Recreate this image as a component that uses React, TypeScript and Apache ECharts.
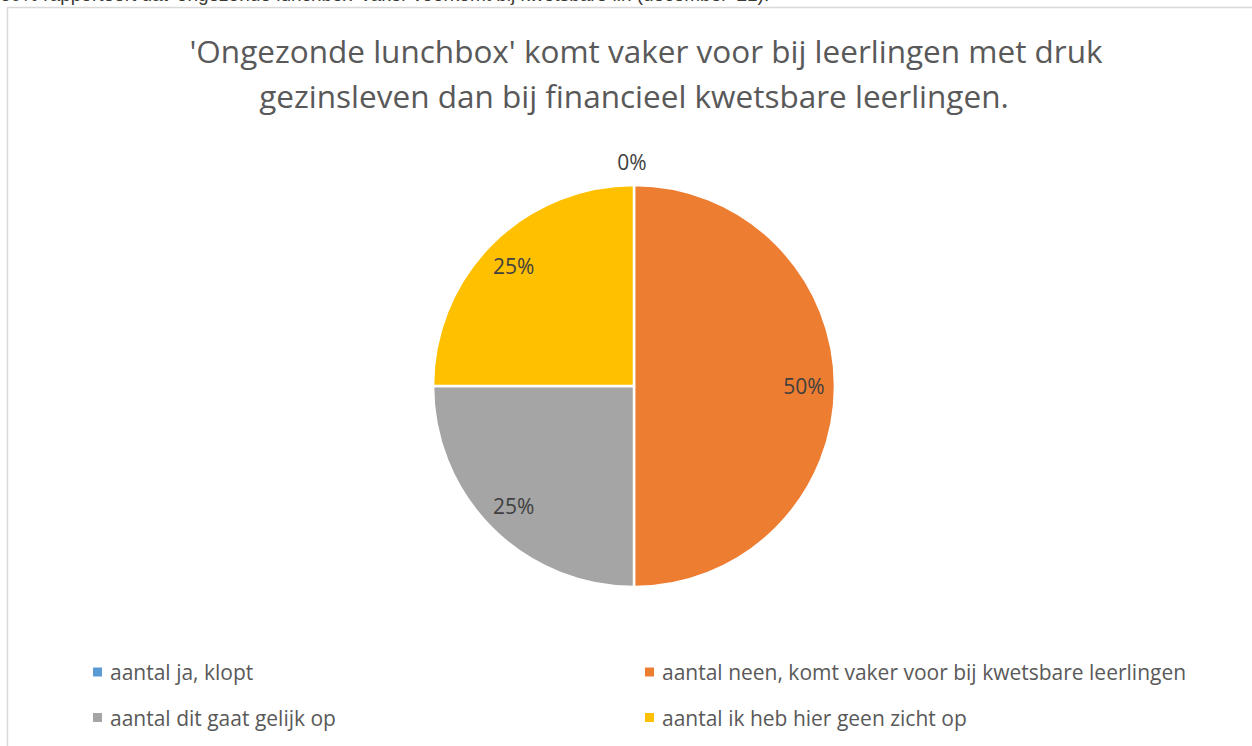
import React, { useEffect, useRef } from "react";
import * as echarts from "echarts";

const categories = [
  "aantal ja, klopt",
  "aantal neen, komt vaker voor bij kwetsbare leerlingen",
  "aantal dit gaat gelijk op",
  "aantal ik heb hier geen zicht op",
];
const values = [0, 2, 1, 1];
const colors = ["#5B9BD5", "#ED7D31", "#A5A5A5", "#FFC000"];
const titleLines = [
  "'Ongezonde lunchbox' komt vaker voor bij leerlingen met druk",
  "gezinsleven dan bij financieel kwetsbare leerlingen.",
];
const headerText =
  "60% rapporteert dat 'ongezonde lunchbox' vaker voorkomt bij kwetsbare lln (december '21).";

const FONT = "'Open Sans', 'Noto Sans', sans-serif";

export default function App() {
  const ref = useRef<HTMLDivElement>(null);
  useEffect(() => {
    if (!ref.current) return;
    const chart = echarts.init(ref.current, null, { renderer: "svg" });
    const total = values.reduce((a, b) => a + b, 0);
    const pct = (v: number) => Math.round((v / total) * 100) + "%";
    const mainData = categories.map((name, i) => ({
      name,
      value: values[i],
      itemStyle: { color: colors[i] },
      label: { show: values[i] === 0 },
    }));
    const overlayData = categories.map((name, i) => ({
      name,
      value: values[i],
      label: { show: values[i] !== 0 },
    }));
    const legendText = {
      fontFamily: FONT,
      fontSize: 21,
      lineHeight: 24,
      color: "#595959",
      padding: [0, 0, 0, 3],
    };
    const titleFont = "31.5px 'Open Sans', 'Noto Sans', sans-serif";
    chart.setOption({
      animation: false,
      backgroundColor: "#ffffff",
      textStyle: { fontFamily: FONT },
      graphic: [
        {
          type: "rect",
          left: 5,
          top: 5,
          shape: { width: 1400, height: 900 },
          style: { fill: "none", stroke: "#d9d9d9", lineWidth: 1.5 },
          silent: true,
        },
        {
          type: "text",
          left: 0,
          top: -15,
          style: {
            text: headerText,
            font: "19px 'Liberation Sans', Arial, sans-serif",
            fill: "#3a3a32",
          },
          silent: true,
        },
        {
          type: "text",
          x: 646,
          y: 50,
          style: {
            text: titleLines[0],
            font: titleFont,
            fill: "#595959",
            textAlign: "center",
            textVerticalAlign: "middle",
          },
          silent: true,
        },
        {
          type: "text",
          x: 634,
          y: 95,
          style: {
            text: titleLines[1],
            font: titleFont,
            fill: "#595959",
            textAlign: "center",
            textVerticalAlign: "middle",
          },
          silent: true,
        },
      ],
      legend: [
        {
          data: [categories[0], categories[2]],
          orient: "vertical",
          left: 88,
          top: 655,
          itemGap: 21.5,
          itemWidth: 9,
          itemHeight: 9,
          icon: "rect",
          itemStyle: { borderWidth: 0 },
          textStyle: legendText,
          selectedMode: false,
        },
        {
          data: [categories[1], categories[3]],
          orient: "vertical",
          left: 640,
          top: 655,
          itemGap: 21.5,
          itemWidth: 9,
          itemHeight: 9,
          icon: "rect",
          itemStyle: { borderWidth: 0 },
          textStyle: legendText,
          selectedMode: false,
        },
      ],
      series: [
        {
          type: "pie",
          center: [634, 386],
          radius: [0, 201],
          startAngle: 90,
          clockwise: true,
          stillShowZeroSum: true,
          itemStyle: { borderColor: "#ffffff", borderWidth: 2.5 },
          label: {
            position: "outside",
            formatter: (p: any) => pct(p.value),
            fontFamily: FONT,
            fontSize: 21,
            color: "#404040",
          },
          labelLine: { show: false, length: 10, length2: 0 },
          labelLayout: (p: any) => ({
            x: p.rect.x + p.rect.width / 2 - 2,
            y: p.rect.y - 22,
            align: "center",
            verticalAlign: "middle",
          }),
          emphasis: { disabled: true },
          data: mainData,
        },
        {
          type: "pie",
          center: [634, 386],
          radius: [0, 334],
          startAngle: 90,
          clockwise: true,
          silent: true,
          legendHoverLink: false,
          itemStyle: { color: "rgba(0,0,0,0)", borderWidth: 0 },
          label: {
            position: "inside",
            formatter: (p: any) => pct(p.value),
            fontFamily: FONT,
            fontSize: 21,
            color: "#404040",
          },
          labelLine: { show: false },
          emphasis: { disabled: true },
          data: overlayData,
          z: 3,
        },
      ],
    });
    return () => chart.dispose();
  }, []);
  return (
    <div
      ref={ref}
      style={{ position: "absolute", left: 0, top: 0, width: 1252, height: 746 }}
    />
  );
}
